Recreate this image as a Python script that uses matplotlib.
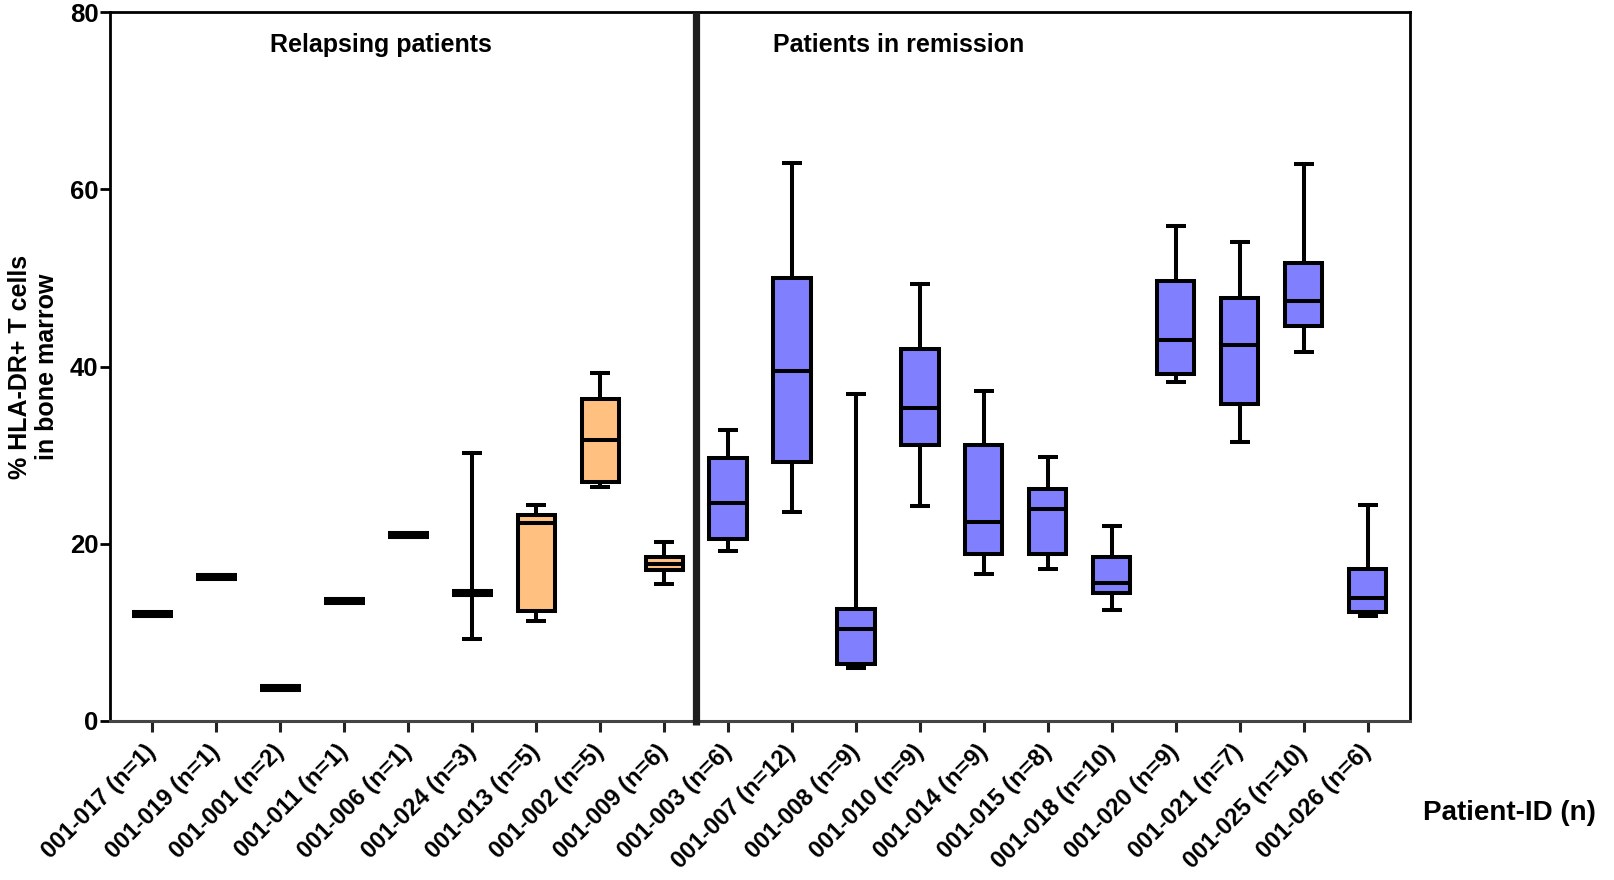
import matplotlib
matplotlib.use("Agg")
import matplotlib.pyplot as plt

plt.rcParams["font.family"] = ["Liberation Sans", "DejaVu Sans"]
plt.rcParams["font.weight"] = "bold"

# ---- data ----
patients = ["001-017", "001-019", "001-001", "001-011", "001-006", "001-024",
            "001-013", "001-002", "001-009",
            "001-003", "001-007", "001-008", "001-010", "001-014", "001-015",
            "001-018", "001-020", "001-021", "001-025", "001-026"]
n_samples = [1, 1, 2, 1, 1, 3, 5, 5, 6,
             6, 12, 9, 9, 9, 8, 10, 9, 7, 10, 6]
n_relapse = 9
whislo = [12.1, 16.2, 3.7, 13.6, 21.0, 9.2, 11.3, 26.4, 15.5,
          19.2, 23.6, 6.0, 24.3, 16.6, 17.2, 12.5, 38.3, 31.5, 41.7, 11.8]
q1 = [12.1, 16.2, 3.7, 13.6, 21.0, 14.5, 12.4, 27.0, 17.0,
      20.5, 29.2, 6.4, 31.1, 18.9, 18.8, 14.5, 39.2, 35.8, 44.6, 12.3]
med = [12.1, 16.2, 3.7, 13.6, 21.0, 14.5, 22.4, 31.7, 17.7,
       24.6, 39.5, 10.4, 35.3, 22.5, 23.9, 15.6, 43.0, 42.4, 47.4, 13.9]
q3 = [12.1, 16.2, 3.7, 13.6, 21.0, 14.5, 23.3, 36.3, 18.5,
      29.7, 50.0, 12.6, 42.0, 31.1, 26.2, 18.5, 49.7, 47.8, 51.7, 17.2]
whishi = [12.1, 16.2, 3.7, 13.6, 21.0, 30.2, 24.4, 39.3, 20.2,
          32.8, 63.0, 36.9, 49.3, 37.3, 29.8, 22.0, 55.9, 54.1, 62.9, 24.4]

labels = [f"{p} (n={k})" for p, k in zip(patients, n_samples)]
C_RELAPSE = "#FFC080"
C_REMISS = "#8080FF"
LW = 2.9

fig = plt.figure(figsize=(16.14, 8.8), dpi=100)
ax = fig.add_axes([0.0682, 0.1807, 0.8054, 0.8053])

for i in range(len(patients)):
    st = dict(med=med[i], q1=q1[i], q3=q3[i], whislo=whislo[i], whishi=whishi[i], fliers=[])
    line = dict(color="black", linewidth=LW, solid_capstyle="butt")
    if q1[i] == q3[i]:
        # collapsed box -> thick bar at the median
        ax.bxp([st], positions=[i], widths=0.64, capwidths=0.32, showbox=False,
               showfliers=False, manage_ticks=False,
               medianprops=dict(color="black", linewidth=5.8, solid_capstyle="butt"),
               whiskerprops=line, capprops=line)
    else:
        fc = C_RELAPSE if i < n_relapse else C_REMISS
        ax.bxp([st], positions=[i], widths=0.58, capwidths=0.32, patch_artist=True,
               showfliers=False, manage_ticks=False,
               boxprops=dict(facecolor=fc, edgecolor="black", linewidth=LW),
               medianprops=line, whiskerprops=line, capprops=line)

# divider between the two groups
ax.axvline(n_relapse - 0.5, ymin=-0.006, ymax=1, color="#1e1e1e", lw=5.2,
           solid_capstyle="butt", clip_on=False, zorder=5)

ax.set_xlim(-0.66, len(patients) - 0.34)
ax.set_ylim(0, 80)
ax.set_yticks([0, 20, 40, 60, 80])
ax.set_xticks(range(len(patients)))
ax.set_xticklabels(labels, rotation=45, ha="right", va="center", rotation_mode="anchor",
                   fontsize=17, fontweight="bold")
ax.tick_params(axis="x", length=8, width=2.2, color="#222222", pad=12)
ax.tick_params(axis="y", length=7, width=2, labelsize=18.5, pad=1.5)
for lab in ax.get_yticklabels():
    lab.set_fontweight("bold")

for side in ["top", "left", "right"]:
    ax.spines[side].set_linewidth(2.0)
    ax.spines[side].set_color("black")
ax.spines["bottom"].set_linewidth(2.2)
ax.spines["bottom"].set_color("#444444")

ax.set_ylabel("% HLA-DR+ T cells\nin bone marrow", fontsize=18, fontweight="bold",
              linespacing=1.2)
ax.yaxis.set_label_coords(-0.039, 0.5)

ax.text(0.2085, 0.954, "Relapsing patients", transform=ax.transAxes, ha="center",
        va="center", fontsize=18, fontweight="bold")
ax.text(0.607, 0.954, "Patients in remission", transform=ax.transAxes, ha="center",
        va="center", fontsize=18, fontweight="bold")
fig.text(0.8817, 0.0761, "Patient-ID (n)", ha="left", va="center", fontsize=20,
         fontweight="bold")

fig.savefig("out.png", dpi=100)
